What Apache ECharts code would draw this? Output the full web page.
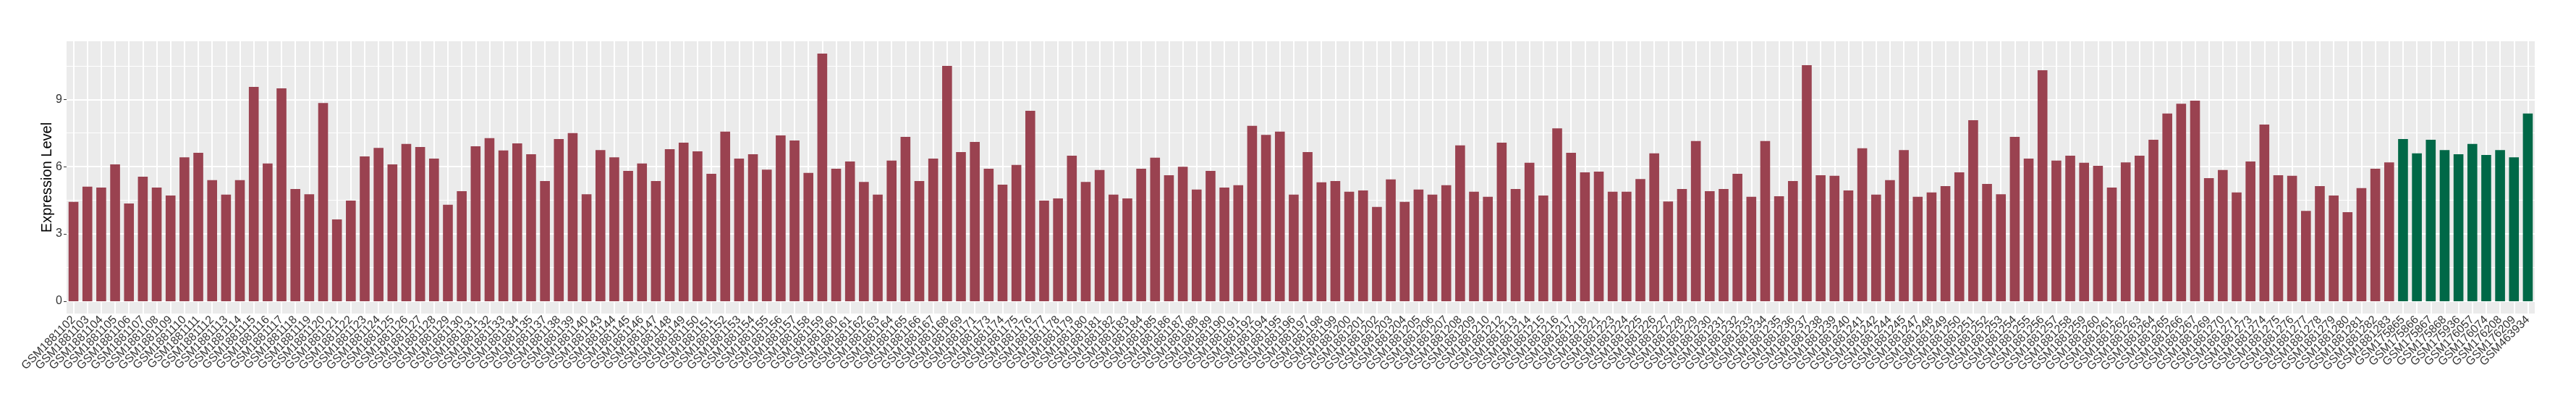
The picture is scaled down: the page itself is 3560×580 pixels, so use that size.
<!DOCTYPE html>
<html><head><meta charset="utf-8">
<script src="https://cdn.jsdelivr.net/npm/echarts@6/dist/echarts.min.js"></script>
<style>html,body{margin:0;padding:0;background:#fff}#c{width:3560px;height:580px}</style>
</head><body><div id="c"></div>
<script>
const categoriesA = [
"GSM1881102","GSM1881103","GSM1881104","GSM1881105","GSM1881106","GSM1881107","GSM1881108","GSM1881109","GSM1881110","GSM1881111",
"GSM1881112","GSM1881113","GSM1881114","GSM1881115","GSM1881116","GSM1881117","GSM1881118","GSM1881119","GSM1881120","GSM1881121",
"GSM1881122","GSM1881123","GSM1881124","GSM1881125","GSM1881126","GSM1881127","GSM1881128","GSM1881129","GSM1881130","GSM1881131",
"GSM1881132","GSM1881133","GSM1881134","GSM1881135","GSM1881137","GSM1881138","GSM1881139","GSM1881140","GSM1881143","GSM1881144",
"GSM1881145","GSM1881146","GSM1881147","GSM1881148","GSM1881149","GSM1881150","GSM1881151","GSM1881152","GSM1881153","GSM1881154",
"GSM1881155","GSM1881156","GSM1881157","GSM1881158","GSM1881159","GSM1881160","GSM1881161","GSM1881162","GSM1881163","GSM1881164",
"GSM1881165","GSM1881166","GSM1881167","GSM1881168","GSM1881169","GSM1881171","GSM1881173","GSM1881174","GSM1881175","GSM1881176",
"GSM1881177","GSM1881178","GSM1881179","GSM1881180","GSM1881181","GSM1881182","GSM1881183","GSM1881184","GSM1881185","GSM1881186",
"GSM1881187","GSM1881188","GSM1881189","GSM1881190","GSM1881191","GSM1881192","GSM1881194","GSM1881195","GSM1881196","GSM1881197",
"GSM1881198","GSM1881199","GSM1881200","GSM1881201","GSM1881202","GSM1881203","GSM1881204","GSM1881205","GSM1881206","GSM1881207",
"GSM1881208","GSM1881209","GSM1881210","GSM1881212","GSM1881213","GSM1881214","GSM1881215","GSM1881216","GSM1881217","GSM1881218",
"GSM1881221","GSM1881223","GSM1881224","GSM1881225","GSM1881226","GSM1881227","GSM1881228","GSM1881229","GSM1881230","GSM1881231",
"GSM1881232","GSM1881233","GSM1881234","GSM1881235","GSM1881236","GSM1881237","GSM1881238","GSM1881239","GSM1881240","GSM1881241",
"GSM1881242","GSM1881244","GSM1881245","GSM1881247","GSM1881248","GSM1881249","GSM1881250","GSM1881251","GSM1881252","GSM1881253",
"GSM1881254","GSM1881255","GSM1881256","GSM1881257","GSM1881258","GSM1881259","GSM1881260","GSM1881261","GSM1881262","GSM1881263",
"GSM1881264","GSM1881265","GSM1881266","GSM1881267","GSM1881269","GSM1881270","GSM1881271","GSM1881273","GSM1881274","GSM1881275",
"GSM1881276","GSM1881277","GSM1881278","GSM1881279","GSM1881280","GSM1881281","GSM1881282","GSM1881283"
];
const categoriesB = ["GSM175865","GSM175866","GSM175867","GSM175868","GSM175936","GSM176057","GSM176074","GSM176208","GSM176209","GSM463934"];

const valuesA = [
4.43,5.11,5.07,6.10,4.36,5.55,5.07,4.71,6.42,6.62,
5.40,4.75,5.40,9.56,6.14,9.49,5.00,4.77,8.84,3.65,
4.49,6.46,6.84,6.10,7.01,6.88,6.36,4.30,4.91,6.91,
7.27,6.72,7.04,6.55,5.36,7.23,7.50,4.77,6.74,6.42,
5.81,6.14,5.36,6.78,7.07,6.68,5.68,7.56,6.36,6.55,
5.87,7.39,7.17,5.72,11.04,5.91,6.23,5.32,4.75,6.27,
7.33,5.36,6.36,10.49,6.65,7.10,5.91,5.20,6.08,8.49,
4.49,4.58,6.49,5.32,5.85,4.75,4.58,5.91,6.40,5.62,
6.00,4.98,5.81,5.07,5.17,7.82,7.42,7.56,4.75,6.65,
5.30,5.36,4.88,4.94,4.20,5.43,4.43,4.98,4.75,5.17,
6.95,4.88,4.66,7.07,5.00,6.17,4.71,7.71,6.62,5.75,
5.78,4.88,4.88,5.45,6.59,4.45,5.00,7.14,4.91,5.00,
5.68,4.66,7.14,4.68,5.36,10.53,5.62,5.59,4.94,6.82,
4.75,5.40,6.74,4.66,4.85,5.13,5.75,8.07,5.23,4.77,
7.33,6.36,10.30,6.27,6.49,6.17,6.04,5.07,6.19,6.49,
7.20,8.37,8.81,8.94,5.49,5.85,4.85,6.23,7.88,5.62,
5.59,4.03,5.13,4.71,3.97,5.04,5.91,6.19
];
const valuesB = [7.23,6.59,7.20,6.74,6.55,7.01,6.52,6.74,6.42,8.37];

const yTicks = [0, 3, 6, 9];
const yTickLabels = ["0", "3", "6", "9"];
const yMinorTicks = [1.5, 4.5, 7.5, 10.5];
const yAxisTitle = "Expression Level";
const colorA = "#9A4250";
const colorB = "#006847";

const categories = categoriesA.concat(categoriesB);
const dataA = valuesA.concat(categoriesB.map(() => null));
const dataB = categoriesA.map(() => null).concat(valuesB);
const vmax = Math.max.apply(null, valuesA.concat(valuesB));
const pad = vmax * 0.05;

const gridLines = []
  .concat(yTicks.map(v => ({ yAxis: v, lineStyle: { color: '#FFFFFF', width: 2, type: 'solid' } })))
  .concat(yMinorTicks.map(v => ({ yAxis: v, lineStyle: { color: '#FFFFFF', width: 1, type: 'solid' } })))
  .concat(categories.map(c => ({ xAxis: c, lineStyle: { color: '#FFFFFF', width: 2, type: 'solid' } })));

const chart = echarts.init(document.getElementById('c'), null, { renderer: 'canvas' });
chart.setOption({
  animation: false,
  textStyle: { fontFamily: 'Liberation Sans' },
  grid: { left: 92, right: 57, top: 57, bottom: 147, show: true, backgroundColor: '#EBEBEB', borderWidth: 0, outerBoundsMode: 'none' },
  xAxis: {
    type: 'category', data: categories,
    axisLine: { show: false },
    axisTick: { show: true, alignWithLabel: true, interval: 0, length: 4, lineStyle: { color: '#333333', width: 1 } },
    axisLabel: { interval: 0, rotate: 45, fontSize: 16, color: '#333333', fontFamily: 'Liberation Sans', margin: 6 },
    splitLine: { show: false }
  },
  yAxis: {
    type: 'value', min: -pad, max: vmax + pad,
    name: yAxisTitle, nameLocation: 'middle', nameRotate: 90, nameGap: 17, nameMoveOverlap: false,
    nameTextStyle: { fontSize: 20, color: '#000000', fontFamily: 'Liberation Sans' },
    axisLine: { show: false },
    axisTick: { show: true, length: 4, customValues: yTicks, lineStyle: { color: '#333333', width: 1 } },
    axisLabel: { customValues: yTicks, formatter: v => yTickLabels[yTicks.indexOf(v)] || '', fontSize: 16, color: '#333333', margin: 6, fontFamily: 'Liberation Sans' },
    splitLine: { show: false }
  },
  series: [
    { type: 'line', data: categories.map(() => null), showSymbol: false, silent: true, z: 1,
      markLine: { silent: true, symbol: 'none', z: 1, animation: false, label: { show: false }, emphasis: { disabled: true }, data: gridLines } },
    { type: 'bar', data: dataA, barWidth: '71%', barGap: '-100%', itemStyle: { color: colorA }, z: 2 },
    { type: 'bar', data: dataB, barWidth: '71%', barGap: '-100%', itemStyle: { color: colorB }, z: 2 }
  ]
});
</script>
</body></html>
